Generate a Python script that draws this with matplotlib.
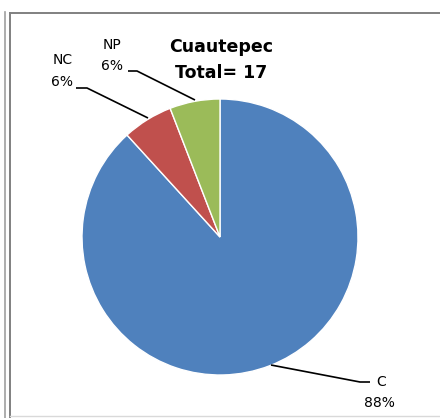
import matplotlib
matplotlib.use("Agg")
import matplotlib.pyplot as plt
from matplotlib.lines import Line2D

categories = ["C", "NC", "NP"]
values = [15, 1, 1]
pct_labels = ["88%", "6%", "6%"]
colors = ["#4F81BD", "#C0504D", "#9BBB59"]
title = "Cuautepec\nTotal= 17"

W, H = 440, 418
fig = plt.figure(figsize=(W / 100, H / 100), dpi=100)
fig.patch.set_facecolor("white")

def fx(px):
    return px / W

def fy(py):
    return 1 - py / H

fig.add_artist(Line2D([fx(5), fx(5)], [fy(12), fy(418)], color="#a0a0a0", lw=1.2))
fig.add_artist(Line2D([fx(9.5), fx(9.5)], [fy(12.5), fy(418)], color="#808080", lw=1.4))
fig.add_artist(Line2D([fx(9.5), fx(440)], [fy(12.5), fy(12.5)], color="#808080", lw=1.4))
fig.add_artist(Line2D([fx(9.5), fx(440)], [fy(416), fy(416)], color="#d9d9d9", lw=1.0))

cx, cy, R = 220, 237, 138
ax = fig.add_axes([0, 0, 1, 1])
ax.axis("off")

ax.pie(values, colors=colors, startangle=90, counterclock=False,
       wedgeprops=dict(edgecolor="white", linewidth=1.0), radius=1.0,
       center=(0, 0), frame=False)
ax.set_xlim((0 - cx) / R, (W - cx) / R)
ax.set_ylim((cy - H) / R, cy / R)
ax.set_aspect("auto")

def d(px, py):
    return ((px - cx) / R, (cy - py) / R)

def leader(points):
    xs, ys = zip(*[d(*p) for p in points])
    ax.plot(xs, ys, color="black", lw=1.2, solid_capstyle="butt")

leader([(271, 365), (360, 382), (370, 382)])
leader([(148, 118), (87, 88), (76, 88)])
leader([(195, 100), (137, 71), (128, 71)])

fs = 10
x, y = d(381, 382)
ax.text(x, y, categories[0], ha="center", va="center", fontsize=fs)
x, y = d(379, 403)
ax.text(x, y, pct_labels[0], ha="center", va="center", fontsize=fs)
x, y = d(63, 60)
ax.text(x, y, categories[1], ha="center", va="center", fontsize=fs)
x, y = d(62, 82)
ax.text(x, y, pct_labels[1], ha="center", va="center", fontsize=fs)
x, y = d(112, 45)
ax.text(x, y, categories[2], ha="center", va="center", fontsize=fs)
x, y = d(112, 66)
ax.text(x, y, pct_labels[2], ha="center", va="center", fontsize=fs)

x, y = d(221, 60)
ax.text(x, y, title, ha="center", va="center", fontsize=12.5,
        fontweight="bold", linespacing=1.6)

fig.savefig("out.png", dpi=100, facecolor="white")
